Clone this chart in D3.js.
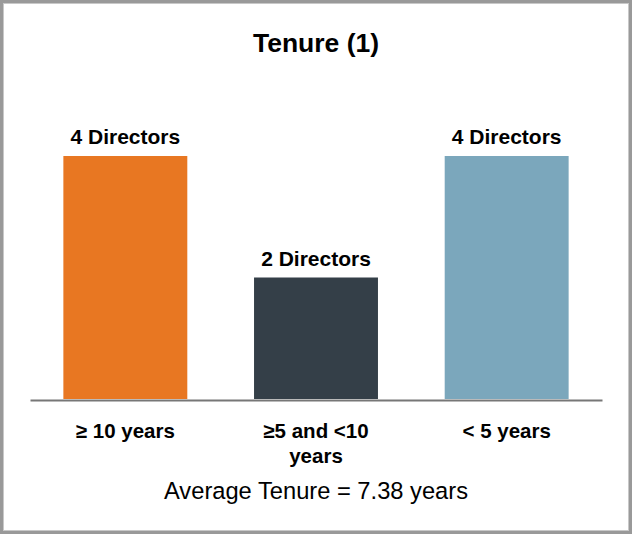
<!DOCTYPE html>
<html><head><meta charset="utf-8">
<script src="https://cdn.jsdelivr.net/npm/d3@7"></script>
<style>html,body{margin:0;padding:0;background:#fff}</style>
</head><body>
<script>
const categories = ["≥ 10 years", "≥5 and <10|years", "< 5 years"];
const values = [4, 2, 4];
const valueLabels = ["4 Directors", "2 Directors", "4 Directors"];
const colors = ["#E87722", "#343F48", "#7BA7BC"];
const title = "Tenure (1)";
const footnote = "Average Tenure = 7.38 years";

const W = 632, H = 534;
const svg = d3.select("body").append("svg").attr("width", W).attr("height", H)
  .style("font-family", "'Liberation Sans', Arial, sans-serif");

svg.append("rect").attr("x", 1.5).attr("y", 1.5).attr("width", W - 3).attr("height", H - 3)
  .attr("fill", "#fff").attr("stroke", "#999").attr("stroke-width", 3);
svg.append("rect").attr("x", 3.5).attr("y", 3.5).attr("width", W - 7).attr("height", H - 7)
  .attr("fill", "none").attr("stroke", "#c8c8c8").attr("stroke-width", 1);

const x = d3.scaleBand().domain(categories).range([30, 602]).paddingInner(0.35).paddingOuter(0.175);
const y = d3.scaleLinear().domain([0, 4]).range([399, 156]);

svg.append("text").attr("x", W / 2).attr("y", 52).attr("text-anchor", "middle")
  .attr("font-weight", "bold").attr("font-size", 26.5).attr("fill", "#000").text(title);

svg.selectAll("rect.bar").data(values).join("rect").attr("class", "bar")
  .attr("x", (d, i) => x(categories[i])).attr("width", x.bandwidth())
  .attr("y", d => y(d)).attr("height", d => y(0) - y(d))
  .attr("fill", (d, i) => colors[i]);

svg.selectAll("text.vl").data(values).join("text").attr("class", "vl")
  .attr("x", (d, i) => x(categories[i]) + x.bandwidth() / 2)
  .attr("y", d => y(d) - 12).attr("text-anchor", "middle")
  .attr("font-weight", "bold").attr("font-size", 21).attr("fill", "#000")
  .text((d, i) => valueLabels[i]);

const axis = d3.axisBottom(x).tickSize(0).tickPadding(0).tickFormat("");
const ag = svg.append("g").attr("transform", "translate(0,400)").call(axis);
ag.select(".domain").attr("stroke", "#777").attr("stroke-width", 2);

categories.forEach(c => {
  const lines = c.split("|");
  const t = svg.append("text").attr("x", x(c) + x.bandwidth() / 2).attr("y", 438)
    .attr("text-anchor", "middle").attr("font-weight", "bold").attr("font-size", 20.5).attr("fill", "#000");
  lines.forEach((l, j) => t.append("tspan").attr("x", x(c) + x.bandwidth() / 2).attr("dy", j ? 25 : 0).text(l));
});

svg.append("text").attr("x", W / 2).attr("y", 499).attr("text-anchor", "middle")
  .attr("font-size", 23.7).attr("fill", "#000").text(footnote);
</script>
</body></html>
